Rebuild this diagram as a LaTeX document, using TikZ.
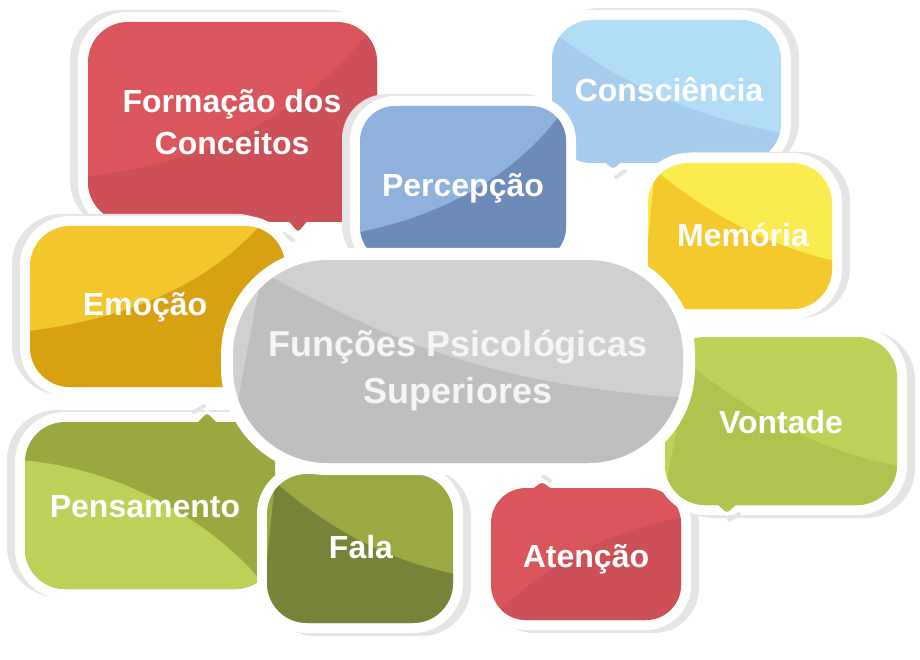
\documentclass[tikz,border=0pt]{standalone}
\usepackage{fontspec}
\setmainfont{Liberation Sans}
\definecolor{shd}{HTML}{E5E5E5}
\definecolor{redA}{HTML}{DB555C}
\definecolor{redB}{HTML}{CD5058}
\definecolor{cyanA}{HTML}{B2DDF6}
\definecolor{cyanB}{HTML}{A6CCEE}
\definecolor{blueA}{HTML}{8EB2DC}
\definecolor{blueB}{HTML}{6C8BB9}
\definecolor{yelA}{HTML}{FBEB4E}
\definecolor{yelB}{HTML}{F4C92C}
\definecolor{ambA}{HTML}{F3C62C}
\definecolor{ambB}{HTML}{D7A112}
\definecolor{grnA}{HTML}{9BA840}
\definecolor{grnB}{HTML}{BDD057}
\definecolor{olA}{HTML}{9CA841}
\definecolor{olB}{HTML}{78833A}
\definecolor{limA}{HTML}{BDD057}
\definecolor{limB}{HTML}{B1C24E}
\definecolor{gryA}{HTML}{D0D0D0}
\definecolor{gryB}{HTML}{BFBFBF}
\definecolor{ctext}{HTML}{F5F5F5}
% #1 corner, #2 corner, #3 radius, #4 shadow shift, #5 white border width
\newcommand\bbase[5]{%
  \fill[shd,shift={#4},rounded corners=#3] (#1) rectangle (#2);
  \draw[shd,line width=#5,shift={#4},rounded corners=#3] (#1) rectangle (#2);
  \fill[white,rounded corners=#3] (#1) rectangle (#2);
  \draw[white,line width=#5,rounded corners=#3] (#1) rectangle (#2);
}
\newcommand\btail[1]{%
  \fill[white] #1; \draw[white,line width=6,line join=round] #1;
}
\begin{document}
\begin{tikzpicture}[x=1pt,y=-1pt,
  lab/.style={text=white,font=\bfseries\fontsize{32}{38}\selectfont,anchor=base,inner sep=0pt},
  clab/.style={text=ctext,font=\bfseries\fontsize{36}{42}\selectfont,anchor=base,inner sep=0pt},
  sliver/.style={shd,line width=4,line cap=round}]
\useasboundingbox (0,0) rectangle (920,660);

% ---------- Formacao dos Conceitos ----------
\bbase{88,22}{377,222}{40}{(-8,-2)}{20}
\btail{(286,220) -- (298,232) -- (310,220) -- cycle}
\draw[sliver] (284,234) -- (293,240);
\fill[redA,rounded corners=40] (88,22) rectangle (377,222);
\begin{scope}
  \clip[rounded corners=40] (88,22) rectangle (377,222);
  \fill[redB] (80,177) .. controls (200,165) and (300,120) .. (370,30) -- (390,20) -- (390,240) -- (80,240) -- cycle;
\end{scope}
\fill[redB,rounded corners=3] (286,218) -- (298,232) -- (310,218) -- cycle;
\node[lab] (formacao1) at (232,113) {Formação dos};
\node[lab] (formacao2) at (232,155) {Conceitos};

% ---------- Consciencia ----------
\bbase{552,20}{781,163}{40}{(8,-2)}{20}
\btail{(602,161) -- (613,169) -- (624,161) -- cycle}
\draw[sliver] (616,177) -- (625,171);
\fill[cyanA,rounded corners=40] (552,20) rectangle (781,163);
\begin{scope}
  \clip[rounded corners=40] (552,20) rectangle (781,163);
  \fill[cyanB] (548,28) .. controls (620,85) and (700,120) .. (790,134) -- (790,175) -- (545,175) -- cycle;
\end{scope}
\fill[cyanB,rounded corners=3] (602,160) -- (613,169) -- (624,160) -- cycle;
\node[lab] (consciencia) at (669,102) {Consciência};

% ---------- Percepcao ----------
\bbase{360,106}{566,262}{35}{(-8,-2)}{20}
\fill[blueA,rounded corners=35] (360,106) rectangle (566,262);
\begin{scope}
  \clip[rounded corners=35] (360,106) rectangle (566,262);
  \fill[blueB] (355,233) .. controls (450,215) and (520,170) .. (562,112) -- (575,100) -- (575,270) -- (355,270) -- cycle;
\end{scope}
\node[lab] (percepcao) at (463,197) {Percepção};

% ---------- Memoria ----------
\bbase{648,163}{832,309}{40}{(8,-1)}{20}
\fill[yelA,rounded corners=40] (648,163) rectangle (832,309);
\begin{scope}
  \clip[rounded corners=40] (648,163) rectangle (832,309);
  \fill[yelB] (655,170) .. controls (715,220) and (780,250) .. (840,262) -- (840,320) -- (640,320) -- cycle;
\end{scope}
\node[lab] (memoria) at (743,247) {Memória};

% ---------- Emocao ----------
\bbase{30,226}{285,387}{40}{(-8,-2)}{20}
\fill[ambA,rounded corners=40] (30,226) rectangle (285,387);
\begin{scope}
  \clip[rounded corners=40] (30,226) rectangle (285,387);
  \fill[ambB] (22,332) .. controls (120,320) and (200,290) .. (258,228) -- (300,220) -- (300,400) -- (22,400) -- cycle;
\end{scope}
\node[lab] (emocao) at (145,315) {Emoção};

% ---------- Pensamento ----------
\bbase{25,422}{275,589}{40}{(-8,-2)}{20}
\btail{(196,424) -- (207,413) -- (218,424) -- cycle}
\draw[sliver] (194,412) -- (204,406);
\fill[grnA,rounded corners=40] (25,422) rectangle (275,589);
\begin{scope}
  \clip[rounded corners=40] (25,422) rectangle (275,589);
  \fill[grnB] (20,460) .. controls (120,468) and (210,520) .. (262,582) -- (280,600) -- (20,600) -- cycle;
\end{scope}
\fill[grnA,rounded corners=3] (196,424) -- (207,413) -- (218,424) -- cycle;
\node[lab] (pensamento) at (145,517) {Pensamento};

% ---------- Fala ----------
\bbase{267,474}{453,623}{40}{(8,3)}{20}
\fill[olA,rounded corners=40] (267,474) rectangle (453,623);
\begin{scope}
  \clip[rounded corners=40] (267,474) rectangle (453,623);
  \fill[olB] (275,482) .. controls (330,530) and (390,562) .. (460,575) -- (460,630) -- (260,630) -- cycle;
\end{scope}
\node[lab] (fala) at (361,558) {Fala};

% ---------- Atencao ----------
\bbase{491,488}{681,620}{35}{(8,3)}{20}
\btail{(531,490) -- (542,482) -- (553,490) -- cycle}
\draw[sliver] (543,476) -- (550,481);
\fill[redA,rounded corners=35] (491,488) rectangle (681,620);
\begin{scope}
  \clip[rounded corners=35] (491,488) rectangle (681,620);
  \fill[redB] (492,618) .. controls (550,560) and (610,530) .. (690,516) -- (690,630) -- (490,630) -- cycle;
\end{scope}
\fill[redA,rounded corners=3] (531,490) -- (542,482) -- (553,490) -- cycle;
\node[lab] (atencao) at (586,567) {Atenção};

% ---------- Vontade ----------
\bbase{665,337}{897,505}{40}{(8,3)}{20}
\btail{(716,503) -- (727,513) -- (738,503) -- cycle}
\draw[sliver] (729,520) -- (739,514);
\fill[limA,rounded corners=40] (665,337) rectangle (897,505);
\begin{scope}
  \clip[rounded corners=40] (665,337) rectangle (897,505);
  \fill[limB] (690,365) .. controls (760,420) and (830,455) .. (905,467) -- (905,515) -- (660,515) -- cycle;
\end{scope}
\fill[limB,rounded corners=3] (716,503) -- (727,513) -- (738,503) -- cycle;
\node[lab] (vontade) at (781,433) {Vontade};

% ---------- Central ----------
\fill[white,rounded corners=95] (233,260) rectangle (683,463);
\draw[white,line width=24,rounded corners=95] (233,260) rectangle (683,463);
\fill[gryA,rounded corners=95] (233,260) rectangle (683,463);
\begin{scope}
  \clip[rounded corners=95] (233,260) rectangle (683,463);
  \fill[gryB] (262,272) .. controls (380,335) and (480,385) .. (690,398) -- (690,470) -- (225,470) -- cycle;
\end{scope}
\node[clab] (central1) at (458,356) {Funções Psicológicas};
\node[clab] (central2) at (458,403) {Superiores};
\end{tikzpicture}
\end{document}
